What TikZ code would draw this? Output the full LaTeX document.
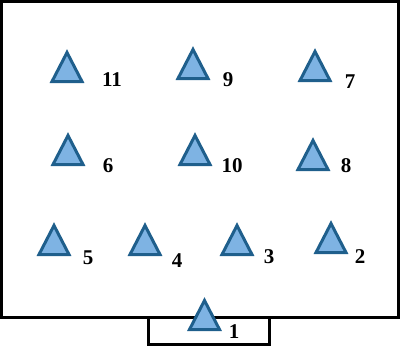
\documentclass[tikz,border=0pt]{standalone}
\usepackage{fontspec}
\setmainfont{Liberation Serif}
\usetikzlibrary{calc}
\begin{document}
\begin{tikzpicture}[x=1pt,y=-1pt,
  tri/.style={draw=triedge,fill=trifill,line width=3pt,line join=miter},
  lbl/.style={font=\bfseries\fontsize{21}{21}\selectfont,inner sep=0pt},
  box/.style={draw=black,line width=3pt}]
\definecolor{triedge}{HTML}{1F5F8C}
\definecolor{trifill}{HTML}{7EB3E3}
\useasboundingbox (0,0) rectangle (401,349);
\draw[box] (1.5,1.5) rectangle (398.5,317) coordinate (bigbr);
\draw[box] (148,317) rectangle (269,344.5);
\newcommand{\mytri}[3]{%
  \coordinate (#1) at (#2,#3);
  \draw[tri] ($(#1)+(0,-14.5)$) -- ($(#1)+(-15,14.5)$) -- ($(#1)+(15,14.5)$) -- cycle;}
\mytri{t11}{67}{67}
\mytri{t9}{193}{64}
\mytri{t7}{315}{66}
\mytri{t6}{68}{150}
\mytri{t10}{195}{150}
\mytri{t8}{313}{155}
\mytri{t5}{54}{240}
\mytri{t4}{145}{240}
\mytri{t3}{237}{240}
\mytri{t2}{331}{238}
\mytri{t1}{204.5}{315}
\node[lbl] (l11) at (112,80) {11};
\node[lbl] (l9) at (228,80) {9};
\node[lbl] (l7) at (350,82) {7};
\node[lbl] (l6) at (108,166) {6};
\node[lbl] (l10) at (232,166) {10};
\node[lbl] (l8) at (346,166) {8};
\node[lbl] (l5) at (88,258) {5};
\node[lbl] (l4) at (177,261) {4};
\node[lbl] (l3) at (269,257) {3};
\node[lbl] (l2) at (360,257) {2};
\node[lbl] (l1) at (234,332) {1};
\end{tikzpicture}
\end{document}
